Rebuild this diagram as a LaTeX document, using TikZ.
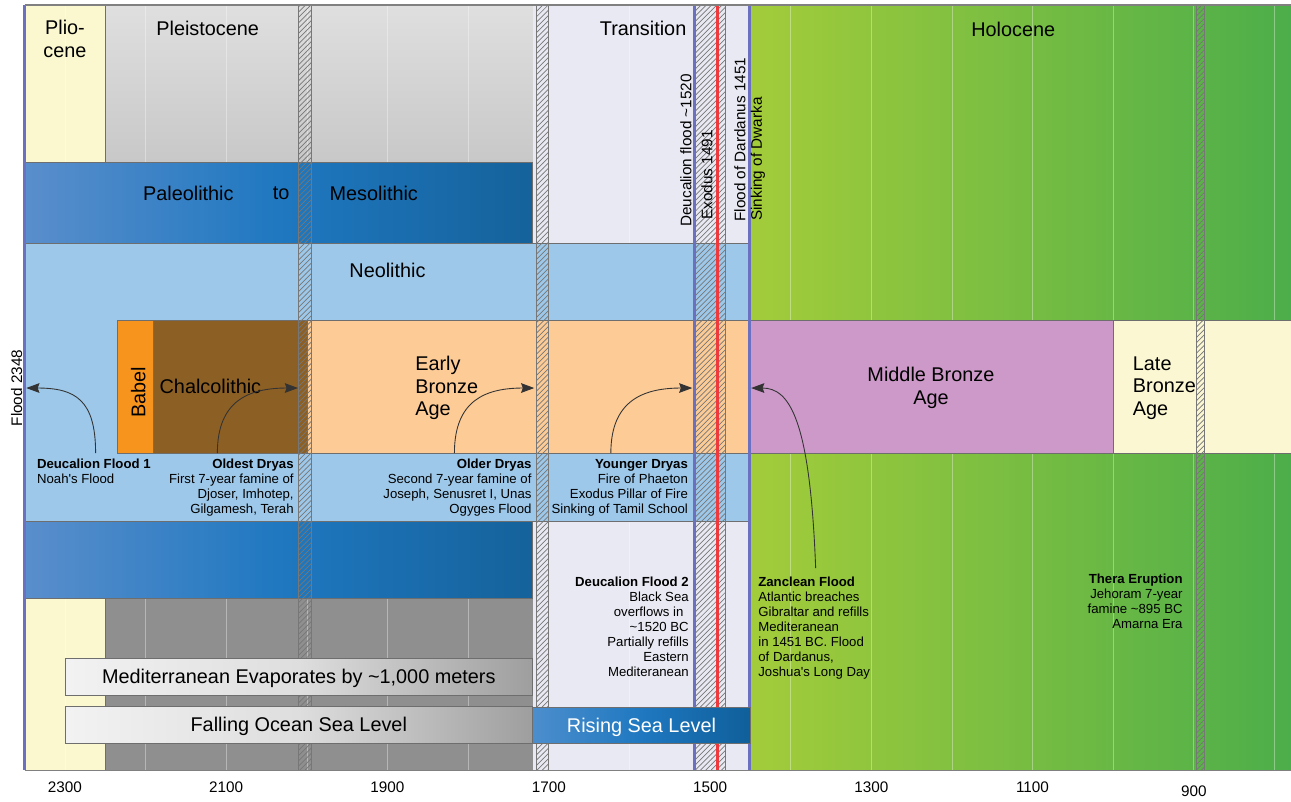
\documentclass[tikz,border=0pt]{standalone}
\usepackage{fontspec}
\setmainfont{Liberation Sans}
\usepackage{tikz}
\usetikzlibrary{patterns,arrows.meta}
\definecolor{pliocene}{HTML}{FBF8CF}
\definecolor{pleistop}{HTML}{DFDFDF}
\definecolor{pleisbot}{HTML}{C8C8C8}
\definecolor{icegray}{HTML}{8F8F8F}
\definecolor{transition}{HTML}{E9E9F3}
\definecolor{hololeft}{HTML}{A3CC3A}
\definecolor{holoright}{HTML}{4CAE4A}
\definecolor{stoneleft}{HTML}{5A8ECC}
\definecolor{stonemid}{HTML}{1F78C0}
\definecolor{stoneright}{HTML}{15629B}
\definecolor{neolithic}{HTML}{9DC8E9}
\definecolor{babel}{HTML}{F7941E}
\definecolor{chalco}{HTML}{8C5F25}
\definecolor{earlybronze}{HTML}{FCCB96}
\definecolor{midbronze}{HTML}{CC99C9}
\definecolor{latebronze}{HTML}{FBF7D3}
\definecolor{floodline}{HTML}{6B70C0}
\definecolor{exodusred}{HTML}{EE3A3C}
\definecolor{edgegray}{HTML}{6E6E6E}
\definecolor{hatchgray}{HTML}{777777}
\definecolor{risingleft}{HTML}{4C8ECD}
\definecolor{risingright}{HTML}{0F5F9A}

\tikzset{
  band/.style={draw=edgegray, line width=0.4pt},
  biglabel/.style={font=\fontsize{11.3}{12.75}\selectfont, inner sep=0pt},
  vlabel/.style={font=\fontsize{8.7}{10}\selectfont, rotate=90, anchor=west, inner sep=0pt},
  note/.style={font=\fontsize{7.5}{8.5}\selectfont, inner sep=0pt},
  yearlabel/.style={font=\fontsize{8.7}{10}\selectfont, inner sep=0pt},
  hatchstrip/.style={pattern=north east lines, pattern color=hatchgray, draw=hatchgray, line width=0.4pt},
  eventline/.style={line width=1.5pt},
  pointer/.style={-{Stealth[length=7.5pt,width=5.5pt,inset=1pt]}, line width=0.5pt, black!80},
  seabar/.style={draw=edgegray, line width=0.5pt}
}

\begin{document}
\begin{tikzpicture}[x=-0.16126mm, y=-0.2mm]
  % x runs in years BC, y in rows from the top
  \useasboundingbox (2380.6,0) rectangle (779.5,801);

  % Epochs
  \fill[pliocene] (2350,5) rectangle (2250,770);
  \shade[top color=pleistop, bottom color=pleisbot] (2250,5) rectangle (1720,162);
  \fill[icegray] (2250,598) rectangle (1720,770);
  \fill[transition] (1720,5) rectangle (1450,770);
  \shade[left color=hololeft, right color=holoright] (1450,5) rectangle (779.5,770);
  \draw[band] (2250,5) -- (2250,162) (2250,598) -- (2250,770);

  % Century grid
  \foreach \g in {2300,2200,...,800}
    \draw[white, opacity=0.35, line width=0.4pt] (\g,5) -- (\g,770);

  % Stone ages
  \shade[band, left color=stoneleft, right color=stoneright, middle color=stonemid]
    (2350,162) rectangle (1720,243);
  \path[band, fill=neolithic] (2350,243) rectangle (1450,521);
  \shade[band, left color=stoneleft, right color=stoneright, middle color=stonemid]
    (2350,521) rectangle (1720,598);

  % Bronze ages
  \path[band, fill=babel] (2235,320) rectangle (2190,453);
  \path[band, fill=chalco] (2190,320) rectangle (2000,453);
  \path[band, fill=earlybronze] (2000,320) rectangle (1450,453);
  \path[band, fill=midbronze] (1450,320) rectangle (1000,453);
  \path[band, fill=latebronze] (1000,320) rectangle (779.5,453);

  % Dryas and eruption strips
  \path[hatchstrip] (2010,5) rectangle (1995,770);
  \path[hatchstrip] (1715,5) rectangle (1700,770);
  \path[hatchstrip] (1518,5) rectangle (1481,770);
  \path[hatchstrip] (897,5) rectangle (887,770);

  % Flood and exodus dates
  \draw[eventline, floodline] (2350,5) -- (2350,770);
  \draw[eventline, floodline] (1520,5) -- (1520,770);
  \draw[eventline, exodusred] (1491,5) -- (1491,770);
  \draw[eventline, floodline] (1451,5) -- (1451,770);

  % Frame and axis
  \draw[gray, line width=0.6pt] (2350,5) -- (779.5,5);
  \draw[gray, line width=0.6pt] (2350,770) -- (779.5,770);
  \foreach \yr in {2300,2100,...,1100}
    \node[yearlabel] (ax\yr) at (\yr,787) {\yr};
  \node[yearlabel] (ax900) at (900,791) {900};

  % Sea level bars
  \shade[seabar, left color=white!95!black, right color=white!62!black, middle color=white!87!black]
    (2300,658) rectangle (1720,695);
  \shade[seabar, left color=white!95!black, right color=white!62!black, middle color=white!87!black]
    (2300,706) rectangle (1720,743);
  \shade[seabar, left color=risingleft, right color=risingright, middle color=stonemid]
    (1720,707) rectangle (1450,743);
  \node[biglabel] (medevap) at (2010,678.5) {Mediterranean Evaporates by \textasciitilde1,000 meters};
  \node[biglabel] (falling) at (2010,726.5) {Falling Ocean Sea Level};
  \node[biglabel, text=white] (rising) at (1585,727) {Rising Sea Level};

  % Period names
  \node[biglabel, align=center] (plio) at (2300,39) {Plio-\\cene};
  \node[biglabel] (pleisto) at (2123,28) {Pleistocene};
  \node[biglabel] (trans) at (1583,28) {Transition};
  \node[biglabel] (holo) at (1124,29) {Holocene};
  \node[biglabel] (paleo) at (2147,193) {Paleolithic};
  \node[biglabel] (to) at (2032,193) {to};
  \node[biglabel] (meso) at (1917,193) {Mesolithic};
  \node[biglabel] (neo) at (1900,270) {Neolithic};
  \node[biglabel, rotate=90] (babelname) at (2209,392) {Babel};
  \node[biglabel, anchor=west] (chalconame) at (2183,386) {Chalcolithic};
  \node[biglabel, anchor=west, align=left] (eba) at (1866,388) {Early\\Bronze\\Age};
  \node[biglabel, align=center] (mba) at (1226,388) {Middle Bronze\\Age};
  \node[biglabel, anchor=west, align=left] (lba) at (976,388) {Late\\Bronze\\Age};

  % Dated events
  \node[vlabel, anchor=center] (flood) at (2360,388) {Flood 2348};
  \node[vlabel] (deucflood) at (1530,227) {Deucalion flood \textasciitilde1520};
  \node[vlabel] (exodus) at (1504,220) {Exodus 1491};
  \node[vlabel] (dardanus) at (1463,222) {Flood of Dardanus 1451};
  \node[vlabel] (dwarka) at (1440.5,221) {Sinking of Dwarka};

  % Notes
  \node[note, anchor=north west, align=left] (dfone) at (2335,459)
    {\textbf{Deucalion Flood 1}\\Noah\textquotesingle s Flood};
  \node[note, anchor=north east, align=right] (oldest) at (2016,459)
    {\textbf{Oldest Dryas}\\First 7-year famine of\\Djoser, Imhotep,\\Gilgamesh, Terah};
  \node[note, anchor=north east, align=right] (older) at (1721,459)
    {\textbf{Older Dryas}\\Second 7-year famine of\\Joseph, Senusret I, Unas\\Ogyges Flood};
  \node[note, anchor=north east, align=right] (younger) at (1527,459)
    {\textbf{Younger Dryas}\\Fire of Phaeton\\Exodus Pillar of Fire\\Sinking of Tamil School};
  \node[note, anchor=north east, align=right] (dftwo) at (1526,577)
    {\textbf{Deucalion Flood 2}\\Black Sea\\overflows in\kern3pt\\\textasciitilde1520 BC\\Partially refills\\Eastern\\Mediteranean};
  \node[note, anchor=north west, align=left] (zanclean) at (1440.5,577)
    {\textbf{Zanclean Flood}\\Atlantic breaches\\Gibraltar and refills\\Mediteranean\\in 1451 BC. Flood\\of Dardanus,\\Joshua\textquotesingle s Long Day};
  \node[note, anchor=north east, align=right] (thera) at (913.5,574)
    {\textbf{Thera Eruption}\\Jehoram 7-year\\famine \textasciitilde895 BC\\Amarna Era};

  % Pointers from the notes to the dates
  \coordinate (dfone tail) at (2262,453);
  \coordinate (dfone head) at (2348,388);
  \coordinate (oldest tail) at (2111,453);
  \coordinate (oldest head) at (2011,388);
  \coordinate (older tail) at (1817,453);
  \coordinate (older head) at (1718,388);
  \coordinate (younger tail) at (1623,453);
  \coordinate (younger head) at (1522,388);
  \coordinate (zanclean tail) at (1369,568);
  \coordinate (zanclean head) at (1449,388);
  \draw[pointer] (dfone tail) .. controls +(0,-53) and +(-61,0) .. (dfone head);
  \draw[pointer] (oldest tail) .. controls +(0,-53) and +(60,0) .. (oldest head);
  \draw[pointer] (older tail) .. controls +(0,-53) and +(60,0) .. (older head);
  \draw[pointer] (younger tail) .. controls +(0,-53) and +(60,0) .. (younger head);
  \draw[pointer] (zanclean tail) .. controls +(7,-148) and +(-48,0) .. (zanclean head);
\end{tikzpicture}
\end{document}
